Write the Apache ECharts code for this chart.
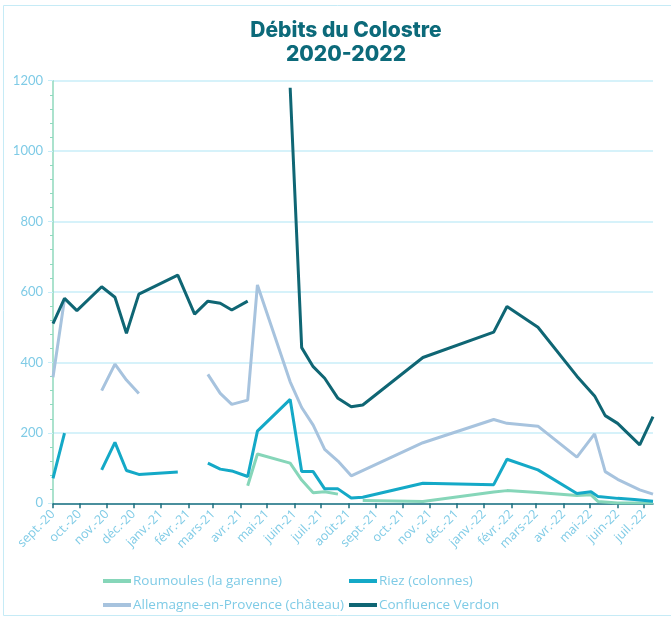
<!DOCTYPE html>
<html>
<head>
<meta charset="utf-8">
<script src="https://cdn.jsdelivr.net/npm/echarts@6/dist/echarts.min.js"></script>
<style>
  html, body { margin: 0; padding: 0; background: #fff; }
  #chart { width: 671px; height: 619px; }
</style>
</head>
<body>
<div id="chart"></div>
<script>
// étiquettes mensuelles de l'axe des x
const monthLabels = ['sept.-20', 'oct.-20', 'nov.-20', 'déc.-20', 'janv.-21', 'févr.-21', 'mars-21', 'avr.-21',
  'mai-21', 'juin-21', 'juil.-21', 'août-21', 'sept.-21', 'oct.-21', 'nov.-21', 'déc.-21', 'janv.-22',
  'févr.-22', 'mars-22', 'avr.-22', 'mai-22', 'juin-22', 'juil.-22'];
const yTicks = [0, 200, 400, 600, 800, 1000, 1200];

// null = coupure de la courbe
const roumoulesDates = ['2021-04-09', '2021-04-20', '2021-05-27', '2021-06-09', '2021-06-22', '2021-07-05', '2021-07-20',
  '2021-08-04', '2021-08-17', '2021-10-24', '2022-01-12', '2022-01-27', '2022-03-03', '2022-04-16', '2022-05-02',
  '2022-05-10', '2022-06-01', '2022-07-11'];
const roumoulesValues = [50, 140, 114, 66, 30, 33, 26,
  null, 8, 5, 32, 36, 31, 22, 24,
  5, 1, 1];

const riezDates = ['2020-09-01', '2020-09-14', '2020-10-01', '2020-10-26', '2020-11-10', '2020-11-23', '2020-12-07',
  '2021-01-20', '2021-02-01', '2021-02-23', '2021-03-09', '2021-03-22', '2021-04-09', '2021-04-20', '2021-05-27',
  '2021-06-09', '2021-06-22', '2021-07-05', '2021-07-20', '2021-08-04', '2021-08-17', '2021-10-24', '2022-01-12',
  '2022-01-27', '2022-03-03', '2022-04-16', '2022-05-02', '2022-05-10', '2022-06-01', '2022-06-20', '2022-07-11'];
const riezValues = [71, 199, null, 95, 173, 93, 82,
  89, null, 114, 97, 92, 76, 205, 295,
  90, 90, 41, 41, 15, 17, 57, 53,
  125, 95, 28, 33, 19, 14, 11, 6];

const allemagneDates = ['2020-09-01', '2020-09-14', '2020-10-01', '2020-10-26', '2020-11-10', '2020-11-23', '2020-12-07',
  '2021-01-01', '2021-02-23', '2021-03-09', '2021-03-22', '2021-04-09', '2021-04-20', '2021-05-27', '2021-06-09',
  '2021-06-22', '2021-07-05', '2021-07-20', '2021-08-04', '2021-10-24', '2022-01-12', '2022-01-27', '2022-03-03',
  '2022-04-16', '2022-05-06', '2022-05-18', '2022-06-01', '2022-06-26', '2022-07-11'];
const allemagneValues = [358, 580, null, 320, 395, 350, 312,
  null, 366, 312, 281, 293, 620, 345, 272,
  222, 153, 120, 78, 172, 238, 227, 219,
  131, 197, 90, 68, 38, 26];

const confluenceDates = ['2020-09-01', '2020-09-14', '2020-09-28', '2020-10-26', '2020-11-10', '2020-11-23', '2020-12-07',
  '2021-01-20', '2021-02-08', '2021-02-23', '2021-03-09', '2021-03-22', '2021-04-09', '2021-05-01', '2021-05-27',
  '2021-06-09', '2021-06-22', '2021-07-05', '2021-07-20', '2021-08-04', '2021-08-17', '2021-10-24', '2022-01-12',
  '2022-01-27', '2022-03-03', '2022-04-16', '2022-05-06', '2022-05-18', '2022-06-01', '2022-06-26', '2022-07-11'];
const confluenceValues = [510, 582, 547, 615, 585, 483, 594,
  648, 537, 574, 568, 549, 574, null, 1180,
  442, 388, 355, 298, 274, 279, 414, 486,
  559, 500, 361, 305, 249, 227, 166, 246];

const t = (s) => {
  const [y, m, d] = s.split('-').map(Number);
  return Date.UTC(y, m - 1, d);
};
const monthTicks = monthLabels.map((_, i) => Date.UTC(2020, 8 + i, 1));
const pairs = (dates, values) => dates.map((d, i) => [t(d), values[i]]);

const LABEL = '#7fcbe6';

function line(name, color, data) {
  return {
    name,
    type: 'line',
    data,
    showSymbol: false,
    symbol: 'none',
    lineStyle: { color, width: 3 },
    itemStyle: { color },
    emphasis: { disabled: true }
  };
}

function legendAt(name, left, top) {
  return {
    data: [name],
    left,
    top,
    icon: 'rect',
    itemWidth: 28,
    itemHeight: 4,
    selectedMode: false,
    textStyle: { color: LABEL, fontSize: 13.5, fontFamily: '"Open Sans", sans-serif', padding: [0, 0, 0, -3] }
  };
}

const chart = echarts.init(document.getElementById('chart'));
chart.setOption({
  animation: false,
  title: {
    text: 'Débits du Colostre\n2020-2022',
    left: 341,
    top: 14,
    textAlign: 'center',
    textStyle: { color: '#0c6a7a', fontSize: 21, fontWeight: 800, lineHeight: 24, fontFamily: 'Inter, sans-serif' }
  },
  graphic: [{
    type: 'rect',
    shape: { x: 3.5, y: 5.5, width: 700, height: 610 },
    style: { fill: 'none', stroke: '#c6ebf6', lineWidth: 1 },
    silent: true
  }],
  legend: [
    legendAt('Roumoules (la garenne)', 98, 569),
    legendAt('Riez (colonnes)', 344, 569),
    legendAt('Allemagne-en-Provence (château)', 98, 593),
    legendAt('Confluence Verdon', 344, 593)
  ],
  grid: { left: 53, right: 18, top: 80.7, bottom: 115.7 },
  xAxis: {
    type: 'value',
    min: t('2020-09-01'),
    max: t('2022-07-11'),
    axisLine: { lineStyle: { color: '#1d6f7f', width: 1.5 } },
    axisTick: { show: true, customValues: monthTicks, length: 5, lineStyle: { color: '#1d6f7f', width: 1.5 } },
    axisLabel: {
      customValues: monthTicks,
      rotate: 45,
      color: LABEL,
      fontSize: 12.5,
      fontFamily: '"Open Sans", sans-serif',
      margin: 9,
      formatter: (v) => {
        const i = monthTicks.indexOf(v);
        return i >= 0 ? monthLabels[i] : '';
      }
    },
    splitLine: { show: false }
  },
  yAxis: {
    type: 'value',
    min: yTicks[0],
    max: yTicks[yTicks.length - 1],
    interval: yTicks[1] - yTicks[0],
    axisLine: { show: true, lineStyle: { color: '#8fd9bd', width: 1.5 } },
    axisTick: { show: true, length: 5, lineStyle: { color: '#c9eef8' } },
    minorTick: { show: true, splitNumber: 5, length: 3, lineStyle: { color: '#8fd9bd' } },
    axisLabel: { color: LABEL, fontSize: 13, fontFamily: 'Lato, sans-serif', margin: 10, formatter: (v) => String(v) },
    splitLine: { lineStyle: { color: '#c9eef8', width: 1.5 } }
  },
  series: [
    line('Roumoules (la garenne)', '#86d6b9', pairs(roumoulesDates, roumoulesValues)),
    line('Riez (colonnes)', '#14a9c7', pairs(riezDates, riezValues)),
    line('Allemagne-en-Provence (château)', '#a7c3de', pairs(allemagneDates, allemagneValues)),
    line('Confluence Verdon', '#0f6674', pairs(confluenceDates, confluenceValues))
  ]
});
</script>
</body>
</html>
